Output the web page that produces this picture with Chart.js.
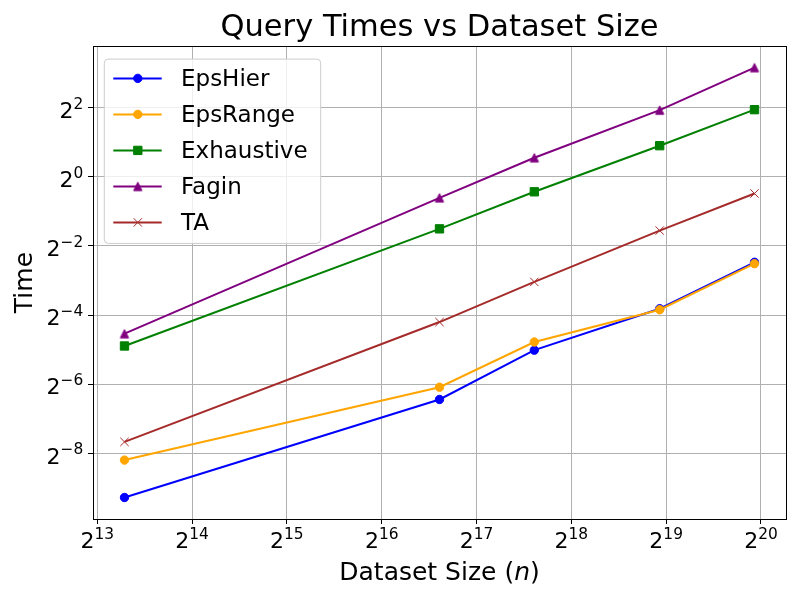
<!DOCTYPE html>
<html>
<head>
<meta charset="utf-8">
<title>Query Times vs Dataset Size</title>
<script src="https://cdn.jsdelivr.net/npm/chart.js@4"></script>
<style>
  html, body { margin: 0; padding: 0; background: #fff; }
  #chart { display: block; }
</style>
</head>
<body>
<canvas id="chart" width="800" height="600"></canvas>
<script>
// tamaños del dataset (eje x)
const datasetSizes = [10000, 100000, 200000, 500000, 1000000];

// tiempos de consulta
const epsHier    = [0.00161, 0.0115, 0.0309, 0.0709, 0.180];
const epsRange   = [0.00341, 0.0147, 0.0364, 0.0695, 0.175];
const exhaustive = [0.0336, 0.352, 0.740, 1.865, 3.84];
const fagin      = [0.0430, 0.656, 1.465, 3.81, 8.93];
const ta         = [0.00491, 0.0543, 0.1214, 0.340, 0.715];

const seriesNames = ['EpsHier', 'EpsRange', 'Exhaustive', 'Fagin', 'TA'];
const seriesValues = [epsHier, epsRange, exhaustive, fagin, ta];

// exponentes de las marcas, potencias de 2
const xTickExps = [13, 14, 15, 16, 17, 18, 19, 20];
const yTickExps = [-8, -6, -4, -2, 0, 2];

const FONT = '"DejaVu Sans", sans-serif';

// triángulo como el '^' de matplotlib (centrado en su caja)
function triangleMarker(color) {
    const c = document.createElement('canvas');
    c.width = 12; c.height = 12;
    const g = c.getContext('2d');
    const h = 4.17;
    g.beginPath();
    g.moveTo(6, 6 - h);
    g.lineTo(6 - h, 6 + h);
    g.lineTo(6 + h, 6 + h);
    g.closePath();
    g.fillStyle = color;
    g.strokeStyle = color;
    g.lineWidth = 1;
    g.lineJoin = 'miter';
    g.fill();
    g.stroke();
    return c;
}

// estilos de cada serie (color, marcador, radio)
const styles = [
    { color: '#0000ff', point: 'circle',   r: 4.2 },
    { color: '#ffa500', point: 'circle',   r: 4.2 },
    { color: '#008000', point: 'rect',     r: 5.9 },
    { color: '#800080', point: triangleMarker('#800080'), r: 5 },
    { color: '#a52a2a', point: 'crossRot', r: 5.9 }
];

// márgenes del 5% en escala log, como matplotlib
function logLimits(values) {
    const logs = values.map(v => Math.log2(v));
    const lo = Math.min(...logs), hi = Math.max(...logs);
    const m = (hi - lo) * 0.05;
    return [Math.pow(2, lo - m), Math.pow(2, hi + m)];
}
const xLim = logLimits(datasetSizes);
const yLim = logLimits(seriesValues.flat());

const datasets = seriesNames.map((name, i) => ({
    label: name,
    data: datasetSizes.map((n, k) => ({ x: n, y: seriesValues[i][k] })),
    borderColor: styles[i].color,
    backgroundColor: styles[i].color,
    pointBackgroundColor: styles[i].color,
    pointBorderColor: styles[i].color,
    pointStyle: styles[i].point,
    pointRadius: styles[i].r,
    pointBorderWidth: 1,
    borderWidth: 2,
    tension: 0,
    fill: false,
    order: seriesNames.length - i   // la primera serie se dibuja debajo
}));

// etiqueta 2^e con el exponente en pequeño y elevado
function drawPow(ctx, exp, x, baseline, align) {
    const e = String(exp).replace('-', '\u2212');
    ctx.font = '22px ' + FONT;
    const wb = ctx.measureText('2').width;
    ctx.font = '15.4px ' + FONT;
    const we = ctx.measureText(e).width;
    let start = align === 'right' ? x - wb - we : x - (wb + we) / 2;
    ctx.font = '22px ' + FONT;
    ctx.fillText('2', start, baseline);
    ctx.font = '15.4px ' + FONT;
    ctx.fillText(e, start + wb, baseline - 9.2);
}

// recuadro, etiquetas de los ejes, leyenda y título del eje x
const extras = {
    id: 'extras',
    afterDraw(chart) {
        const ctx = chart.ctx;
        const a = chart.chartArea;
        const sx = chart.scales.x, sy = chart.scales.y;
        ctx.save();

        // marco completo
        ctx.strokeStyle = '#000';
        ctx.lineWidth = 1;
        ctx.strokeRect(Math.round(a.left) + 0.5, Math.round(a.top) + 0.5,
                       Math.round(a.right - a.left), Math.round(a.bottom - a.top));

        // etiquetas de las marcas
        ctx.fillStyle = '#000';
        ctx.textAlign = 'left';
        ctx.textBaseline = 'alphabetic';
        xTickExps.forEach(e => {
            drawPow(ctx, e, sx.getPixelForValue(Math.pow(2, e)), a.bottom + 29.3, 'center');
        });
        yTickExps.forEach(e => {
            drawPow(ctx, e, a.left - 9.7, sy.getPixelForValue(Math.pow(2, e)) + 10.3, 'right');
        });

        // leyenda
        const x0 = a.left + 11.3, y0 = a.top + 13, w = 216.4, h = 184.3, rad = 4;
        ctx.beginPath();
        ctx.moveTo(x0 + rad, y0);
        ctx.arcTo(x0 + w, y0, x0 + w, y0 + h, rad);
        ctx.arcTo(x0 + w, y0 + h, x0, y0 + h, rad);
        ctx.arcTo(x0, y0 + h, x0, y0, rad);
        ctx.arcTo(x0, y0, x0 + w, y0, rad);
        ctx.closePath();
        ctx.fillStyle = 'rgba(255,255,255,0.8)';
        ctx.fill();
        ctx.strokeStyle = '#cccccc';
        ctx.lineWidth = 1;
        ctx.stroke();

        chart.data.datasets.forEach((ds, i) => {
            const y = y0 + 19.3 + i * 36;
            ctx.strokeStyle = ds.borderColor;
            ctx.lineWidth = 2;
            ctx.beginPath();
            ctx.moveTo(x0 + 9, y);
            ctx.lineTo(x0 + 57.4, y);
            ctx.stroke();
            ctx.fillStyle = ds.pointBackgroundColor;
            ctx.strokeStyle = ds.pointBorderColor;
            ctx.lineWidth = 1;
            Chart.helpers.drawPoint(ctx, {
                pointStyle: ds.pointStyle, radius: ds.pointRadius,
                rotation: 0, borderWidth: 1
            }, x0 + 33.5, y);
            ctx.fillStyle = '#000';
            ctx.font = '23px ' + FONT;
            ctx.textAlign = 'left';
            ctx.textBaseline = 'alphabetic';
            ctx.fillText(ds.label, x0 + 76.7, y + 7.6);
        });

        // título del eje x
        const parts = [['Dataset Size (', ''], ['n', 'italic '], [')', '']];
        let total = 0;
        parts.forEach(p => { ctx.font = p[1] + '25px ' + FONT; total += ctx.measureText(p[0]).width; });
        let x = (a.left + a.right) / 2 - total / 2;
        ctx.fillStyle = '#000';
        parts.forEach(p => {
            ctx.font = p[1] + '25px ' + FONT;
            ctx.fillText(p[0], x, chart.height - 20);
            x += ctx.measureText(p[0]).width;
        });
        ctx.restore();
    }
};

const ctx = document.getElementById('chart').getContext('2d');
new Chart(ctx, {
    type: 'line',
    data: { datasets: datasets },
    options: {
        responsive: false,
        animation: false,
        devicePixelRatio: 1,
        layout: { padding: { top: 0, right: 14, bottom: 0, left: 0 } },
        scales: {
            x: {
                type: 'logarithmic',
                bounds: 'data',
                min: xLim[0],
                max: xLim[1],
                afterBuildTicks: (scale) => { scale.ticks = xTickExps.map(e => ({ value: Math.pow(2, e) })); },
                afterFit: (scale) => { scale.height = 81; },
                ticks: { display: false, autoSkip: false },
                grid: { color: '#b0b0b0', lineWidth: 1, tickColor: '#000', tickLength: 5, tickWidth: 1 },
                border: { display: true, color: '#000', width: 1 },
                title: { display: false }
            },
            y: {
                type: 'logarithmic',
                bounds: 'data',
                min: yLim[0],
                max: yLim[1],
                afterBuildTicks: (scale) => { scale.ticks = yTickExps.map(e => ({ value: Math.pow(2, e) })); },
                afterFit: (scale) => { scale.width = 93; },
                ticks: { display: false, autoSkip: false },
                grid: { color: '#b0b0b0', lineWidth: 1, tickColor: '#000', tickLength: 5, tickWidth: 1 },
                border: { display: true, color: '#000', width: 1 },
                title: {
                    display: true,
                    text: 'Time',
                    color: '#000',
                    font: { family: FONT, size: 25 },
                    padding: { top: 10, bottom: 0 }
                }
            }
        },
        plugins: {
            legend: { display: false },
            tooltip: { enabled: false },
            title: {
                display: true,
                text: 'Query Times vs Dataset Size',
                color: '#000',
                fullSize: false,
                font: { family: FONT, size: 30.5, weight: 'normal' },
                padding: { top: 9.5, bottom: 0 }
            }
        }
    },
    plugins: [extras]
});
</script>
</body>
</html>
